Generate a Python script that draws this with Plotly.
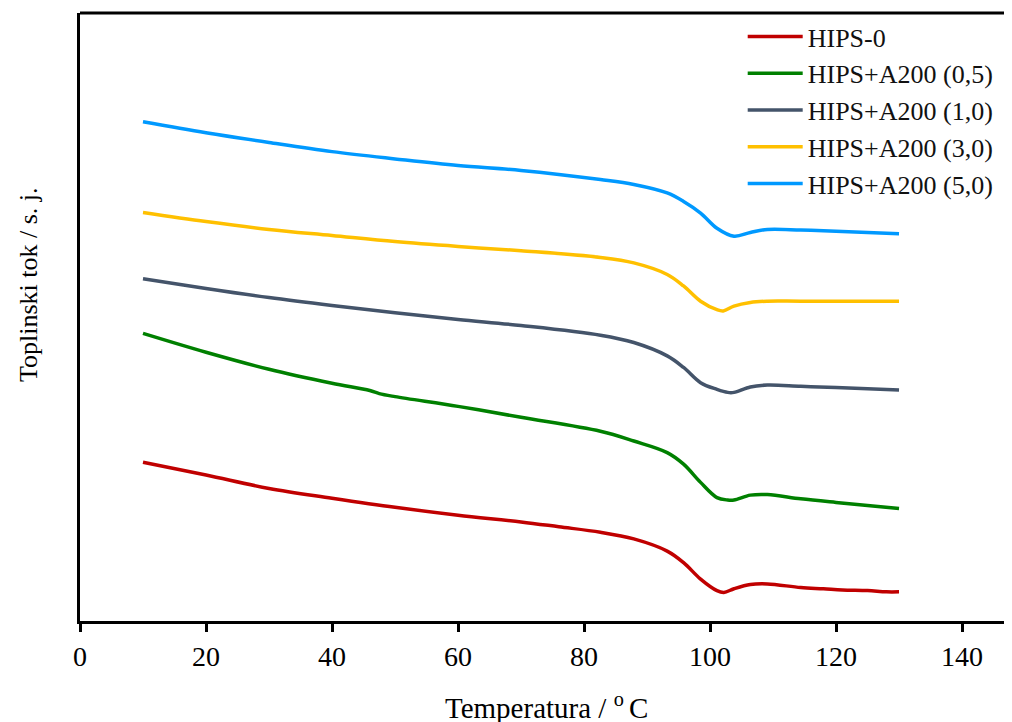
import plotly.graph_objects as go

# Temperature points (°C) and heat flow (arbitrary units) for each sample
t_hips0 = [10, 20, 30, 40, 50, 60, 70, 76, 82.6, 87.9, 93.2, 95.8, 98.5, 101.1, 102.2, 103.8, 106.4, 109.1, 114.4, 118, 121, 125, 128, 130]
y_hips0 = [26.1, 24.0, 21.8, 20.2, 18.7, 17.4, 16.3, 15.5, 14.6, 13.5, 11.5, 9.6, 6.9, 5.0, 4.7, 5.3, 6.0, 6.1, 5.5, 5.3, 5.1, 5.0, 4.8, 4.8]

t_a05 = [10, 20, 30, 40, 46, 47.5, 50, 60, 70, 82.6, 87.9, 93.2, 95.8, 98.5, 101.1, 102.8, 103.8, 106.4, 109.1, 114.4, 120, 125, 130]
y_a05 = [47.3, 44.2, 41.4, 39.1, 37.9, 37.4, 36.9, 35.3, 33.5, 31.2, 29.6, 27.7, 25.8, 22.8, 20.3, 19.9, 19.9, 20.7, 20.8, 20.1, 19.5, 19.0, 18.5]

t_a10 = [10, 20, 30, 40, 50, 60, 70, 82.6, 87.9, 93.2, 95.8, 98.5, 101.1, 102.8, 103.8, 106.4, 109.1, 114.4, 120, 130]
y_a10 = [56.3, 54.7, 53.2, 51.9, 50.7, 49.6, 48.6, 47.0, 45.8, 43.6, 41.7, 39.2, 38.1, 37.6, 37.6, 38.5, 38.8, 38.6, 38.4, 38.0]

t_a30 = [10, 20, 30, 40, 50, 60, 70, 82.6, 87.9, 93.2, 95.8, 98.5, 101.1, 102.1, 103.8, 106.4, 109.1, 114.4, 130]
y_a30 = [67.2, 65.7, 64.4, 63.4, 62.4, 61.6, 60.9, 59.8, 58.9, 57.0, 55.1, 52.6, 51.2, 51.0, 51.8, 52.4, 52.6, 52.6, 52.6]

t_a50 = [10, 20, 30, 40, 50, 60, 70, 82.6, 87.9, 93.2, 95.8, 98.5, 101.1, 103.8, 106.4, 109.1, 114.4, 120, 130]
y_a50 = [82.1, 80.3, 78.7, 77.2, 76.0, 74.9, 74.1, 72.6, 71.8, 70.4, 69.0, 67.1, 64.6, 63.3, 63.9, 64.4, 64.3, 64.1, 63.7]

names = ["HIPS-0", "HIPS+A200 (0,5)", "HIPS+A200 (1,0)", "HIPS+A200 (3,0)", "HIPS+A200 (5,0)"]
colors = ["#C00000", "#008000", "#44546A", "#FFC000", "#0099FF"]
series = [(t_hips0, y_hips0), (t_a05, y_a05), (t_a10, y_a10), (t_a30, y_a30), (t_a50, y_a50)]

x_ticks = [0, 20, 40, 60, 80, 100, 120, 140]

FONT = "Liberation Serif, Times New Roman, serif"

fig = go.Figure()
for (t, y), name, c in zip(series, names, colors):
    fig.add_trace(go.Scatter(x=t, y=y, mode="lines", name=name,
                             line=dict(color=c, width=3.5, shape="spline", smoothing=1.0)))

fig.update_layout(
    width=1012, height=714,
    margin=dict(l=72, r=0, t=5, b=101),
    paper_bgcolor="white", plot_bgcolor="white",
    font=dict(family=FONT, size=26, color="black"),
    showlegend=True,
    legend=dict(x=0.705, y=1.0, xanchor="left", yanchor="top",
                font=dict(family=FONT, size=26, color="#111"),
                bgcolor="rgba(0,0,0,0)", tracegroupgap=0, itemwidth=55,
                traceorder="normal"),
    xaxis=dict(range=[0, 149.2], tickvals=x_ticks, ticks="outside", ticklen=8, tickwidth=3,
               tickcolor="black", showline=True, linewidth=3, linecolor="black",
               showgrid=False, zeroline=False,
               tickfont=dict(family=FONT, size=28, color="black")),
    yaxis=dict(range=[0, 100], showticklabels=False, ticks="", showline=True,
               linewidth=3, linecolor="black", showgrid=False, zeroline=False),
    shapes=[dict(type="line", xref="paper", yref="paper", x0=0, x1=1, y0=1, y1=1,
                 line=dict(color="black", width=3))],
    annotations=[
        dict(text="Toplinski tok / s. j.", xref="paper", yref="paper", x=-0.055, y=0.553,
             xanchor="center", yanchor="middle", textangle=-90, showarrow=False,
             font=dict(family=FONT, size=26, color="black")),
        dict(text="Temperatura / <sup>o </sup>C", xref="x", yref="paper", x=74.0, y=-0.14,
             xanchor="center", yanchor="middle", showarrow=False,
             font=dict(family=FONT, size=29, color="black")),
    ],
)

fig.write_html("out.html")
